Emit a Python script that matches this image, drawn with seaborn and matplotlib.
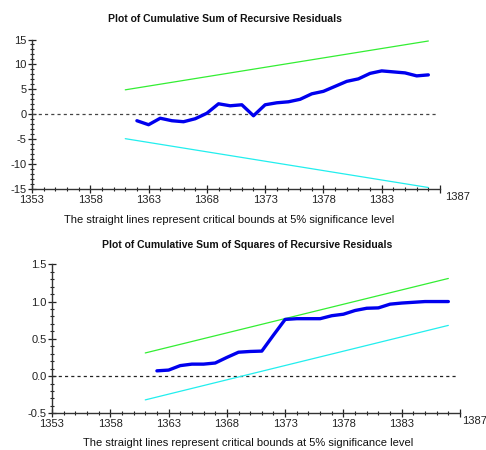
import matplotlib
matplotlib.use("Agg")
import matplotlib.pyplot as plt
from matplotlib.ticker import MultipleLocator, FixedLocator
import seaborn as sns
import pandas as pd

years = [1362, 1363, 1364, 1365, 1366, 1367, 1368, 1369, 1370, 1371, 1372, 1373, 1374,
         1375, 1376, 1377, 1378, 1379, 1380, 1381, 1382, 1383, 1384, 1385, 1386, 1387]
cusum = [-1.3, -2.1, -0.8, -1.3, -1.5, -0.9, 0.2, 2.1, 1.7, 1.9, -0.3, 1.9, 2.3,
         2.5, 3.0, 4.1, 4.6, 5.6, 6.6, 7.1, 8.2, 8.7, 8.5, 8.3, 7.7, 7.9]
cusumsq = [0.07, 0.08, 0.14, 0.16, 0.16, 0.175, 0.25, 0.32, 0.33, 0.335, 0.55, 0.76, 0.77,
           0.77, 0.77, 0.81, 0.83, 0.88, 0.91, 0.915, 0.965, 0.98, 0.99, 1.0, 1.0, 1.0]
bound_years = [1361, 1387]
cusum_upper = [4.9, 14.7]
cusum_lower = [-4.9, -14.7]
sq_upper = [0.31, 1.31]
sq_lower = [-0.32, 0.68]

x_ticks = [1353, 1358, 1363, 1368, 1373, 1378, 1383]
end_label = "1387"
title_top = "Plot of Cumulative Sum of Recursive Residuals"
title_bot = "Plot of Cumulative Sum of Squares of Recursive Residuals"
note = "The straight lines represent critical bounds at 5% significance level"

sns.set_style("white")
plt.rcParams['font.family'] = ['Liberation Sans', 'DejaVu Sans']

fig = plt.figure(figsize=(4.86, 4.5), dpi=100)
W, H = 486, 450

def px_axes(l, t, r, b):
    return fig.add_axes([l / W, 1 - b / H, (r - l) / W, (b - t) / H])

ax1 = px_axes(32, 39.5, 440, 189)
ax2 = px_axes(52, 264.3, 460, 413.3)

main_df1 = pd.DataFrame({"year": years, "value": cusum})
main_df2 = pd.DataFrame({"year": years, "value": cusumsq})
b1 = pd.DataFrame({"year": bound_years, "up": cusum_upper, "lo": cusum_lower})
b2 = pd.DataFrame({"year": bound_years, "up": sq_upper, "lo": sq_lower})

def style(ax, ylim, ymaj, ymin, label_dx):
    ax.set_xlim(1353, 1388)
    ax.set_ylim(*ylim)
    for s in ["top", "right"]:
        ax.spines[s].set_visible(False)
    for s in ["left", "bottom"]:
        ax.spines[s].set_color("#333333")
        ax.spines[s].set_linewidth(1.0)
    ax.xaxis.set_major_locator(FixedLocator(x_ticks + [1388]))
    ax.set_xticklabels([str(t) for t in x_ticks] + [""])
    ax.xaxis.set_minor_locator(MultipleLocator(1))
    ax.yaxis.set_major_locator(MultipleLocator(ymaj))
    ax.yaxis.set_minor_locator(MultipleLocator(ymin))
    ax.tick_params(which="major", direction="inout", length=6, width=0.9, color="#222222",
                   labelsize=8, pad=1, labelcolor="#222222")
    ax.tick_params(which="minor", direction="inout", length=3, width=0.8, color="#222222")
    ax.tick_params(axis="both", which="both", left=True, bottom=True)
    ax.set_xlabel("")
    ax.set_ylabel("")
    ax.text(1.0 + label_dx / 408, -0.02, end_label, transform=ax.transAxes, fontsize=8,
            color="#222222", ha="left", va="top")

# Top chart
ax1.axhline(0, color="#444444", lw=0.9, ls=(0, (2.5, 2.5)), xmax=0.995)
sns.lineplot(data=b1, x="year", y="up", ax=ax1, color="#33ee33", lw=0.9)
sns.lineplot(data=b1, x="year", y="lo", ax=ax1, color="#22eeee", lw=0.9)
sns.lineplot(data=main_df1, x="year", y="value", ax=ax1, color="#0000ee", lw=2.4)
style(ax1, (-15, 15), 5, 1, 5)
ax1.set_yticks([-15, -10, -5, 0, 5, 10, 15])
ax1.set_yticklabels(["-15", "-10", "-5", "0", "5", "10", "15"])

# Bottom chart
ax2.axhline(0, color="#222222", lw=0.9, ls=(0, (2.5, 2.5)), xmax=0.995)
sns.lineplot(data=b2, x="year", y="up", ax=ax2, color="#33ee33", lw=0.9)
sns.lineplot(data=b2, x="year", y="lo", ax=ax2, color="#22eeee", lw=0.9)
sns.lineplot(data=main_df2, x="year", y="value", ax=ax2, color="#0000ee", lw=2.4)
style(ax2, (-0.5, 1.5), 0.5, 0.1, 2.5)
ax2.set_yticks([-0.5, 0.0, 0.5, 1.0, 1.5])
ax2.set_yticklabels(["-0.5", "0.0", "0.5", "1.0", "1.5"])

fig.text(225 / W, 1 - 19 / H, title_top, ha="center", va="center", fontsize=7.5,
         fontweight="bold", color="#111111")
fig.text(229 / W, 1 - 220 / H, note, ha="center", va="center", fontsize=8, color="#111111")
fig.text(247.5 / W, 1 - 245 / H, title_bot, ha="center", va="center", fontsize=7.5,
         fontweight="bold", color="#111111")
fig.text(248.5 / W, 1 - 443.3 / H, note, ha="center", va="center", fontsize=8, color="#111111")

fig.savefig("out.png", dpi=100)
